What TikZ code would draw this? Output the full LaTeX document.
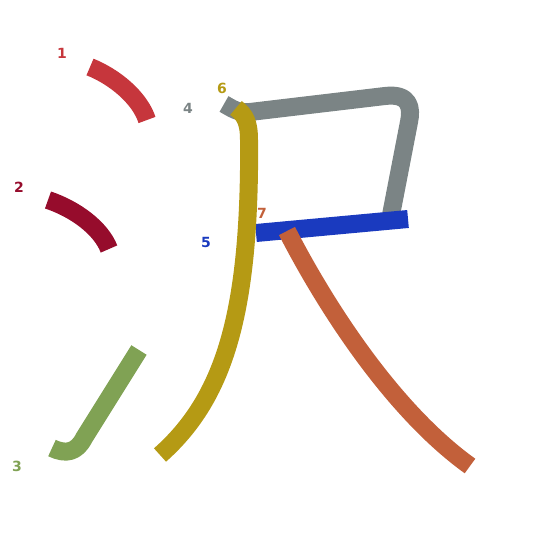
\documentclass[tikz,border=0pt]{standalone}
\usepackage{fontspec}
\setsansfont{DejaVu Sans}
\definecolor{cA}{HTML}{C6363C}
\definecolor{cB}{HTML}{960C2C}
\definecolor{cC}{HTML}{80A254}
\definecolor{cD}{HTML}{7B8485}
\definecolor{cE}{HTML}{1A3ABF}
\definecolor{cF}{HTML}{B59A14}
\definecolor{cG}{HTML}{C2603A}
\tikzset{
  stroke/.style={line width=18pt, line cap=butt, line join=round},
  num/.style={font=\sffamily\bfseries\fontsize{14}{14}\selectfont, inner sep=0pt}
}
\begin{document}
\begin{tikzpicture}[x=1pt,y=-1pt]
\useasboundingbox (0,0) rectangle (545,545);
% 1
\draw[stroke, cA] (90,67) .. controls (115,77) and (140,98) .. (147,120);
% 2
\draw[stroke, cB] (48,200) .. controls (75,209) and (101,228) .. (109,249);
% 3
\draw[stroke, cC] (139,350) -- (84,438) .. controls (77,452) and (66,455) .. (52,448);
% 4
\draw[stroke, cD] (224,104) .. controls (233,109) and (238,113) .. (250,112) -- (385,96) .. controls (410,93) and (412,108) .. (409,122) -- (391,215);
% 5
\draw[stroke, cE] (256,233) -- (408,219);
% 6
\draw[stroke, cF] (236,108) .. controls (245,115) and (249,122) .. (249,140) -- (249,170) .. controls (247,320) and (222,400) .. (160,455);
% 7
\draw[stroke, cG] (287,231) .. controls (325,305) and (392,410) .. (470,466);
% labels
\node[num, text=cA] (n1) at (62,53) {1};
\node[num, text=cB] (n2) at (19,187) {2};
\node[num, text=cC] (n3) at (17,466) {3};
\node[num, text=cD] (n4) at (188,108) {4};
\node[num, text=cE] (n5) at (206,242) {5};
\node[num, text=cF] (n6) at (222,88) {6};
\node[num, text=cG] (n7) at (262,213) {7};
\end{tikzpicture}
\end{document}
